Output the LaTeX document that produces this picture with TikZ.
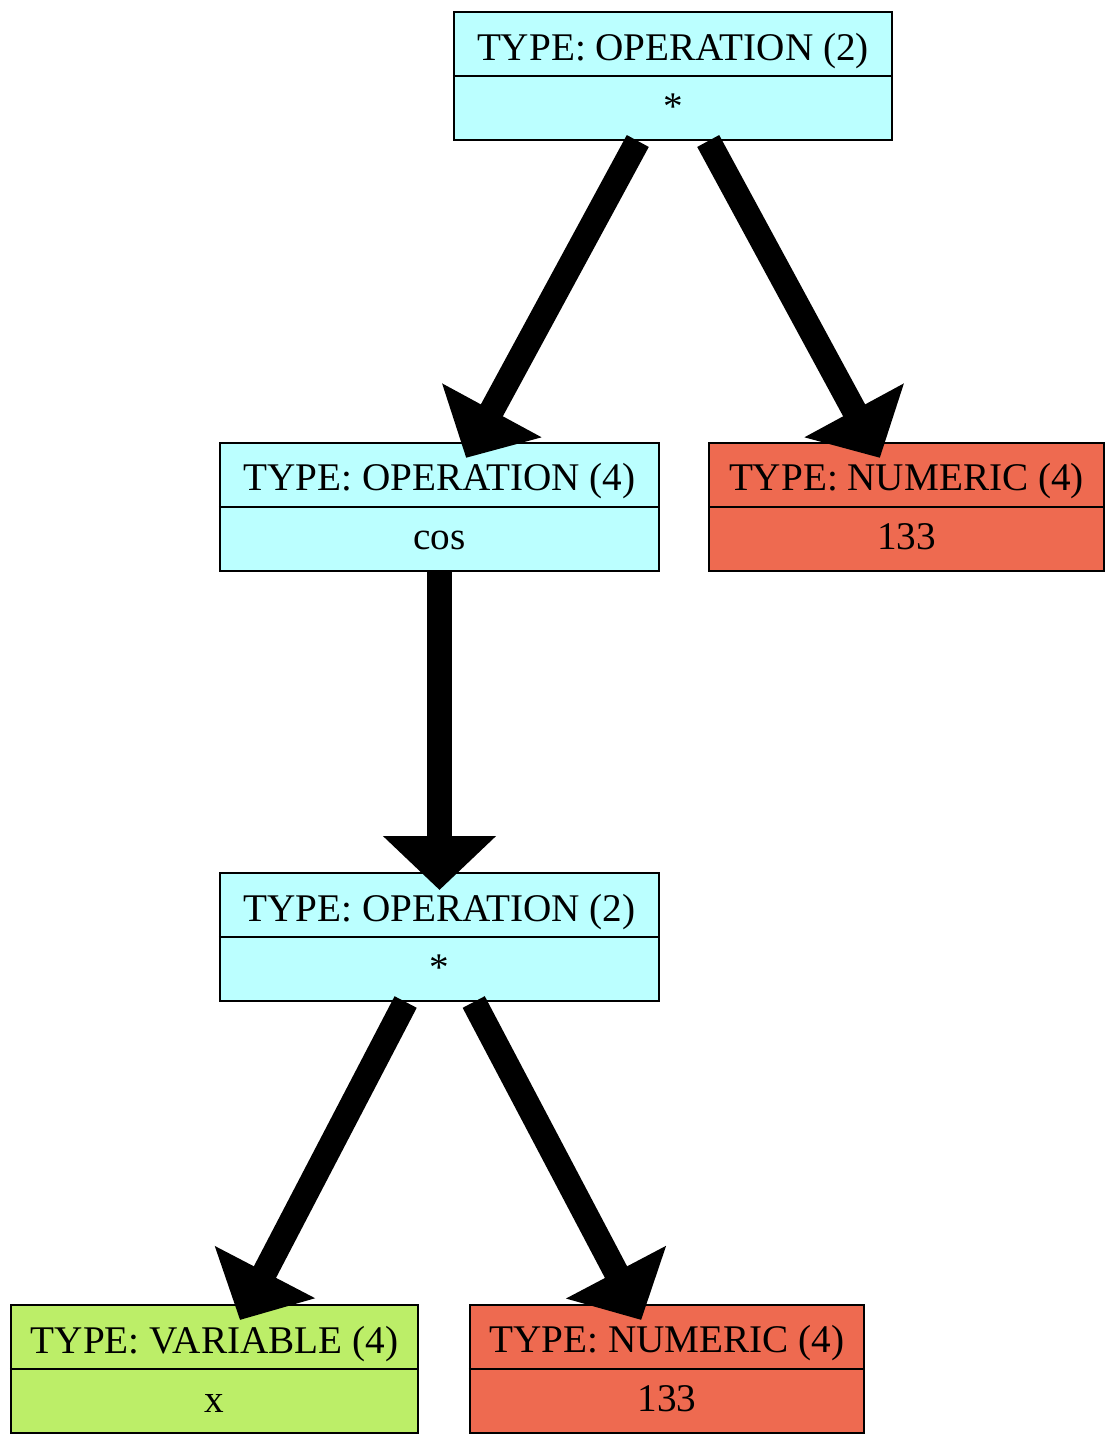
\documentclass[tikz,border=0pt]{standalone}
\usepackage{fontspec}
\setmainfont{Liberation Serif}
\usetikzlibrary{positioning, arrows.meta}

\definecolor{opcol}{HTML}{BBFFFF}
\definecolor{numcol}{HTML}{EE6A50}
\definecolor{varcol}{HTML}{BCEE68}

\begin{document}
\begin{tikzpicture}[
		rec/.style={draw, line width=1pt, minimum height=64pt, inner sep=0pt,
			align=center, font=\fontsize{19.6}{29.5}\selectfont},
		link/.style={line width=12.5pt, shorten >=-9pt,
			-{Triangle[length=27pt, width=55pt]}}
		]
		
		% The records, top to bottom
		\node[rec, fill=opcol, minimum width=219pt] (root) {TYPE: OPERATION (2)\\*};
		\node[rec, fill=opcol, minimum width=219.5pt, below=150.5pt of root, xshift=-116.75pt] (cos) {TYPE: OPERATION (4)\\cos};
		\node[rec, fill=numcol, minimum width=197.5pt, right=24pt of cos] (num1) {TYPE: NUMERIC (4)\\133};
		\node[rec, fill=opcol, minimum width=219.5pt, below=150pt of cos] (mul) {TYPE: OPERATION (2)\\*};
		\node[rec, fill=varcol, minimum width=203.5pt, below=151pt of mul, xshift=-112.5pt] (var) {TYPE: VARIABLE (4)\\x};
		\node[rec, fill=numcol, minimum width=197pt, right=25pt of var] (num2) {TYPE: NUMERIC (4)\\133};
		
		% Field separators
		\foreach \n in {root, cos, num1, mul, var, num2}
		\draw[line width=1pt] (\n.west) -- (\n.east);
		
		% Edges
		\draw[link] (root) -- (cos);
		\draw[link] (root) -- (num1);
		\draw[link] (cos) -- (mul);
		\draw[link] (mul) -- (var);
		\draw[link] (mul) -- (num2);
		
		\useasboundingbox ([xshift=-336.5pt, yshift=38pt]root.center) rectangle ++(557.5pt,-722pt);
		
	\end{tikzpicture}
\end{document}
